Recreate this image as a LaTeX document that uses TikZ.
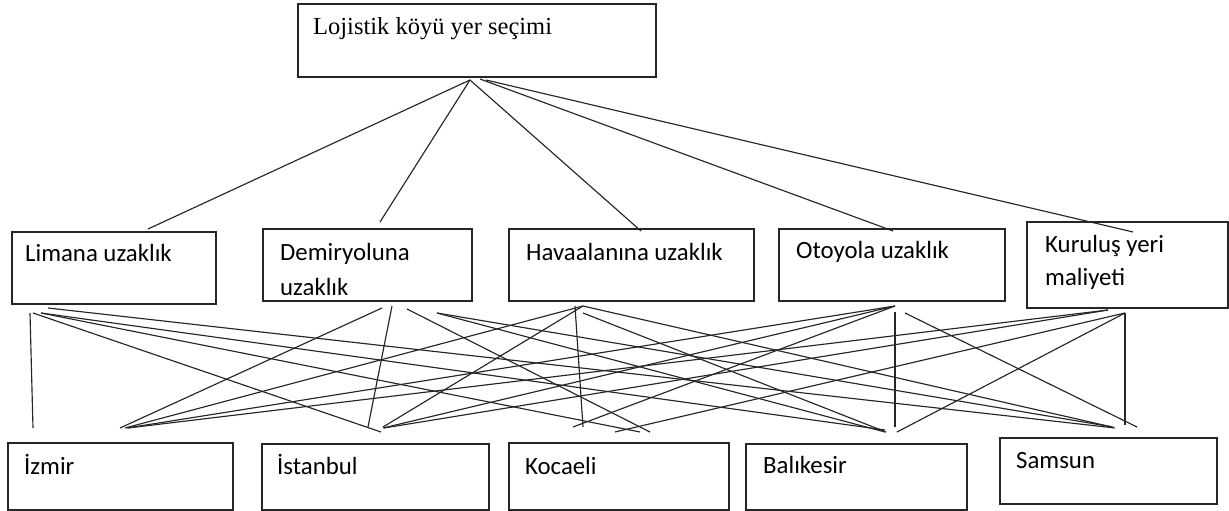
\documentclass[tikz,border=0pt]{standalone}
\usepackage{fontspec}
\setmainfont{Carlito}
\newfontfamily\serifface{Liberation Serif}
\begin{document}
\begin{tikzpicture}[x=1pt,y=-1pt,
  box/.style={draw=black!85, line width=1.2pt, inner sep=0pt, outer sep=0pt, anchor=north west},
  lbl/.style={anchor=base west, inner sep=0pt, font=\fontsize{24.8}{28}\selectfont},
  link/.style={draw=black!85, line width=1.15pt}]
\useasboundingbox (0,0) rectangle (1229,511);
% boxes
\node[box, minimum width=358pt, minimum height=73pt] (top) at (298,4) {};
\node[box, minimum width=204pt, minimum height=72pt] (lim) at (12,232) {};
\node[box, minimum width=209pt, minimum height=72pt] (dem) at (263,229) {};
\node[box, minimum width=245pt, minimum height=72pt] (hav) at (509,229) {};
\node[box, minimum width=226pt, minimum height=72pt] (oto) at (779,229) {};
\node[box, minimum width=201pt, minimum height=86pt] (kur) at (1027,222) {};
\node[box, minimum width=225pt, minimum height=67pt] (izm) at (8,443) {};
\node[box, minimum width=227pt, minimum height=66pt] (ist) at (262,444) {};
\node[box, minimum width=220pt, minimum height=67pt] (koc) at (509,443) {};
\node[box, minimum width=221pt, minimum height=66pt] (bal) at (746,444) {};
\node[box, minimum width=217pt, minimum height=66pt] (sam) at (1000,438) {};
% texts
\node[lbl, font=\serifface\fontsize{24.5}{28}\selectfont] (ttop) at (313,35) {Lojistik köyü yer seçimi};
\node[lbl] (tlim) at (25,261) {Limana uzaklık};
\node[lbl] (tdem1) at (280,260) {Demiryoluna};
\begin{scope}
\clip (263,229) rectangle (472,294);
\node[lbl] (tdem2) at (280,295.5) {uzaklık};
\end{scope}
\node[lbl] (thav) at (526,260) {Havaalanına uzaklık};
\node[lbl] (toto) at (796,258) {Otoyola uzaklık};
\node[lbl] (tkur1) at (1045,252) {Kuruluş yeri};
\node[lbl] (tkur2) at (1045,285) {maliyeti};
\node[lbl] (tizm) at (24,474) {İzmir};
\node[lbl] (tist) at (277,474) {İstanbul};
\node[lbl] (tkoc) at (525,474) {Kocaeli};
\node[lbl] (tbal) at (763,473) {Balıkesir};
\node[lbl] (tsam) at (1016,468) {Samsun};
% top connectors
\coordinate (t0) at (470,80);
\coordinate (t1) at (480,79);
\coordinate (t2) at (486,80);
\coordinate (elim) at (148,229);
\coordinate (edem) at (380,222);
\coordinate (ehav) at (641,231);
\coordinate (eoto) at (893,231);
\coordinate (ekur) at (1133,232);
\draw[link] (t0) -- (elim);
\draw[link] (t0) -- (edem);
\draw[link] (t0) -- (ehav);
\draw[link] (t1) -- (eoto);
\draw[link] (t2) -- (ekur);
% sources
\coordinate (la) at (30,313);
\coordinate (lb) at (33,313);
\coordinate (lc) at (41,313);
\coordinate (ld) at (48,308);
\coordinate (da) at (382,308);
\coordinate (db) at (392,306);
\coordinate (dc) at (407,309);
\coordinate (dd) at (437,313);
\coordinate (ha) at (575,306);
\coordinate (hb) at (583,306);
\coordinate (hc) at (583,313);
\coordinate (oa) at (895,306);
\coordinate (ob) at (895,312);
\coordinate (oc) at (905,313);
\coordinate (ka) at (1108,310);
\coordinate (kb) at (1125,313);
% targets
\coordinate (iz1) at (33,428);
\coordinate (iz2) at (120,428);
\coordinate (iz3) at (125,428);
\coordinate (iz4) at (127,428);
\coordinate (iz5) at (128,428);
\coordinate (is1) at (381,432);
\coordinate (is2) at (368,427);
\coordinate (is3) at (383,427);
\coordinate (is4) at (383,428);
\coordinate (is5) at (384,428);
\coordinate (ko1) at (640,432);
\coordinate (ko2) at (650,432);
\coordinate (ko3) at (583,427);
\coordinate (ko4) at (573,427);
\coordinate (ko5) at (615,432);
\coordinate (ba1) at (885,430);
\coordinate (ba2) at (885,432);
\coordinate (ba3) at (886,432);
\coordinate (ba4) at (895,427);
\coordinate (ba5) at (897,432);
\coordinate (sa1) at (1115,428);
\coordinate (sa2) at (1113,427);
\coordinate (sa3) at (1112,427);
\coordinate (sa4) at (1137,427);
\coordinate (sa5) at (1125,425);
% lower connectors
\draw[link] (la) -- (iz1);
\draw[link] (lb) -- (is1);
\draw[link] (lc) -- (ko1);
\draw[link] (lc) -- (ba1);
\draw[link] (ld) -- (sa1);
\draw[link] (da) -- (iz2);
\draw[link] (db) -- (is2);
\draw[link] (dc) -- (ko2);
\draw[link] (dd) -- (ba2);
\draw[link] (dd) -- (sa2);
\draw[link] (hb) -- (iz3);
\draw[link] (hb) -- (is3);
\draw[link] (ha) -- (ko3);
\draw[link] (hc) -- (ba3);
\draw[link] (hb) -- (sa3);
\draw[link] (oa) -- (iz4);
\draw[link] (oa) -- (is4);
\draw[link] (oa) -- (ko4);
\draw[link] (ob) -- (ba4);
\draw[link] (oc) -- (sa4);
\draw[link] (ka) -- (iz5);
\draw[link] (ka) -- (is5);
\draw[link] (kb) -- (ko5);
\draw[link] (kb) -- (ba5);
\draw[link] (kb) -- (sa5);
\end{tikzpicture}
\end{document}
